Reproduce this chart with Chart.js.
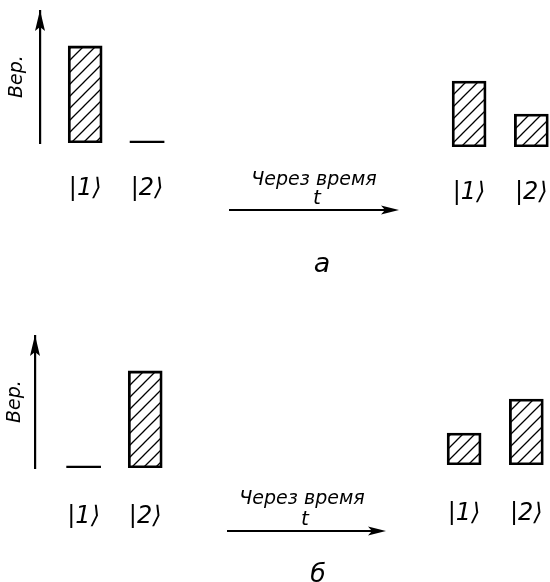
<!DOCTYPE html>
<html><head><meta charset="utf-8">
<script src="https://cdn.jsdelivr.net/npm/chart.js@4"></script>
<style>
html,body{margin:0;padding:0;background:#fff;overflow:hidden;width:550px;height:582px}
#fig{position:relative;width:550px;height:582px;overflow:hidden;background:#fff}
canvas{position:absolute}
svg{position:absolute;left:0;top:0}
.txt{position:absolute;font-family:"DejaVu Sans",sans-serif;font-style:italic;color:#000;white-space:nowrap;transform:translate(-50%,-50%);line-height:1}
</style></head><body>
<div id="fig">
<canvas id="aL" width="178" height="193" style="left:0px;top:10px"></canvas>
<canvas id="aR" width="112" height="193" style="left:438px;top:14px"></canvas>
<canvas id="bL" width="176" height="193" style="left:0px;top:335px"></canvas>
<canvas id="bR" width="112" height="193" style="left:433px;top:332px"></canvas>
<svg width="550" height="582">
  <line x1="229" y1="210" x2="388" y2="210" stroke="#000" stroke-width="2.2"/>
  <polygon points="399,210 381,205.5 385,210 381,214.5" fill="#000"/>
  <line x1="227" y1="531" x2="375" y2="531" stroke="#000" stroke-width="2.2"/>
  <polygon points="386,531 368,526.5 372,531 368,535.5" fill="#000"/>
</svg>
<div class="txt" id="tA" style="left:314px;top:178px;font-size:19px"></div>
<div class="txt" id="vA" style="left:317px;top:197px;font-size:20px"></div>
<div class="txt" id="pA" style="left:322px;top:262px;font-size:27px"></div>
<div class="txt" id="tB" style="left:302px;top:497px;font-size:19px"></div>
<div class="txt" id="vB" style="left:305px;top:518px;font-size:20px"></div>
<div class="txt" id="pB" style="left:318px;top:573px;font-size:25px"></div>
</div>
<script>
// ---- data ----
const stateLabels = ['|1⟩', '|2⟩'];
const stateX = [1, 2];
const aBefore = [1.00, 0];
const aAfter  = [0.68, 0.34];
const bBefore = [0, 1.00];
const bAfter  = [0.33, 0.68];
const yAxisLabel = 'Вер.';
const timeLabel = 'Через время';
const timeVar = 't';
const panelLabels = ['а', 'б'];
const yMax = 1.37;

document.getElementById('tA').textContent = timeLabel;
document.getElementById('tB').textContent = timeLabel;
document.getElementById('vA').textContent = timeVar;
document.getElementById('vB').textContent = timeVar;
document.getElementById('pA').textContent = panelLabels[0];
document.getElementById('pB').textContent = panelLabels[1];

function hatch() {
  const s = 12;
  const p = document.createElement('canvas');
  p.width = p.height = s;
  const c = p.getContext('2d');
  c.fillStyle = '#fff'; c.fillRect(0, 0, s, s);
  c.strokeStyle = '#000'; c.lineWidth = 1.3;
  c.beginPath();
  c.moveTo(0, s); c.lineTo(s, 0);
  c.moveTo(-1, 1); c.lineTo(1, -1);
  c.moveTo(s - 1, s + 1); c.lineTo(s + 1, s - 1);
  c.stroke();
  return c.createPattern(p, 'repeat');
}

const arrowPlugin = {
  id: 'yArrow',
  afterDraw(chart) {
    const s = chart.scales.y;
    if (!s || !s.options.display) return;
    const ctx = chart.ctx;
    const x = chart.chartArea.left, y = chart.chartArea.top;
    ctx.save();
    ctx.fillStyle = '#000';
    ctx.beginPath();
    ctx.moveTo(x, y);
    ctx.lineTo(x - 5, y + 21);
    ctx.lineTo(x, y + 17);
    ctx.lineTo(x + 5, y + 21);
    ctx.closePath();
    ctx.fill();
    ctx.restore();
  }
};

function makeChart(id, values, cfg) {
  const pattern = hatch();
  const isZero = c => c.type === 'data' && c.parsed && c.parsed.y === 0;
  return new Chart(document.getElementById(id), {
    type: 'bar',
    data: {
      datasets: [{
        data: stateX.map((x, i) => ({x: x, y: values[i]})),
        backgroundColor: c => isZero(c) ? '#000' : pattern,
        borderColor: '#000',
        borderWidth: c => isZero(c) ? 0 : 2.8,
        borderSkipped: false,
        barThickness: 34,
        minBarLength: 2
      }]
    },
    options: {
      responsive: false,
      animation: false,
      events: [],
      layout: {padding: 0},
      plugins: {legend: {display: false}, tooltip: {enabled: false}},
      scales: {
        x: {
          type: 'linear',
          offset: false,
          bounds: 'data',
          min: cfg.xMin, max: cfg.xMax,
          grid: {display: false, drawTicks: false, offset: false},
          border: {display: false},
          afterBuildTicks: a => { a.ticks = stateX.map(v => ({value: v})); },
          afterFit: a => { a.height = 60; a.paddingLeft = 0; a.paddingRight = 0; },
          ticks: {
            padding: cfg.tickPad,
            color: '#000',
            font: {family: 'DejaVu Sans', size: 24, style: 'italic'},
            callback: (v, i) => stateLabels[i]
          }
        },
        y: {
          display: cfg.axis,
          min: 0, max: yMax,
          grid: {display: false, drawTicks: false},
          border: {display: true, color: '#000', width: 2.2},
          ticks: {display: false},
          afterFit: a => { if (cfg.axis) a.width = cfg.axisWidth; },
          title: {
            display: true,
            text: yAxisLabel,
            color: '#000',
            padding: {top: cfg.titlePad || 0, bottom: 0},
            font: {family: 'DejaVu Sans', size: 19, style: 'italic'}
          }
        }
      }
    },
    plugins: [arrowPlugin]
  });
}

makeChart('aL', aBefore, {axis: true, axisWidth: 40, xMin: 0.27, xMax: 2.5, tickPad: 31, titlePad: 6});
makeChart('aR', aAfter,  {axis: false, xMin: 0.5, xMax: 2.3, tickPad: 31});
makeChart('bL', bBefore, {axis: true, axisWidth: 35, xMin: 0.21, xMax: 2.5, tickPad: 34, titlePad: 4});
makeChart('bR', bAfter,  {axis: false, xMin: 0.5, xMax: 2.3, tickPad: 34});
</script>
</body></html>
